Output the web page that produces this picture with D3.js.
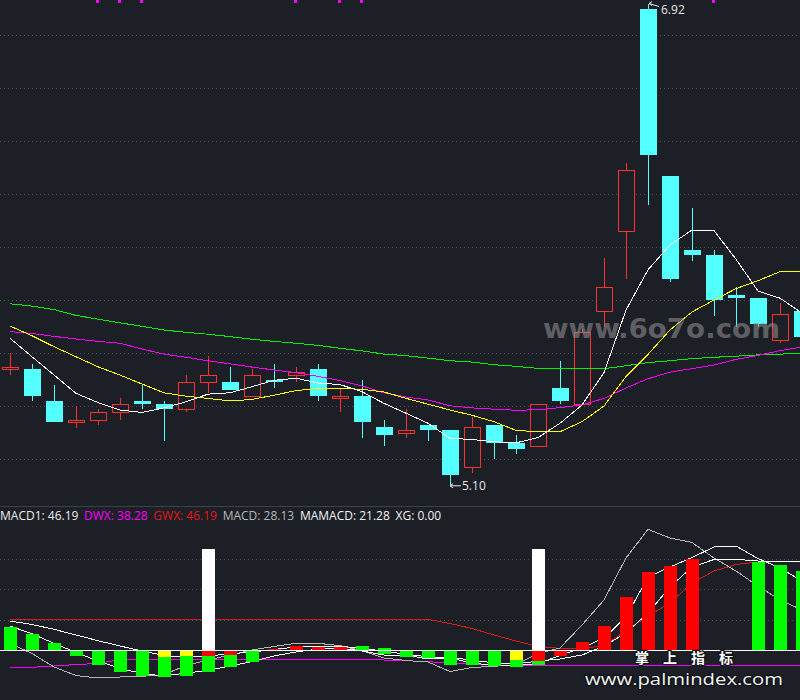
<!DOCTYPE html>
<html>
<head>
<meta charset="utf-8">
<script src="https://cdn.jsdelivr.net/npm/d3@7/dist/d3.min.js"></script>
<style>
html,body{margin:0;padding:0;background:#1c1f26;overflow:hidden;}
svg{display:block;}
</style>
</head>
<body>
<svg id="chart" width="800" height="700"></svg>
<script>
// ---------------- DATA ----------------
const openP  = [5.54,5.54,5.42,5.34,5.35,5.38,5.42,5.41,5.39,5.49,5.49,5.44,5.50,5.52,5.54,5.43,5.44,5.32,5.30,5.33,5.31,5.17,5.33,5.26,5.25,5.47,5.41,5.76,6.06,6.90,6.27,5.99,5.97,5.82,5.81,5.65,5.76];
const highP  = [5.60,5.56,5.48,5.40,5.39,5.43,5.48,5.42,5.52,5.59,5.55,5.54,5.56,5.55,5.56,5.47,5.50,5.35,5.39,5.33,5.31,5.36,5.33,5.29,5.41,5.57,5.69,5.96,6.32,6.92,6.27,6.15,5.99,5.85,5.81,5.79,5.78];
const lowP   = [5.52,5.42,5.34,5.32,5.33,5.35,5.39,5.27,5.38,5.45,5.46,5.44,5.47,5.49,5.42,5.38,5.28,5.25,5.28,5.27,5.10,5.15,5.20,5.22,5.25,5.41,5.41,5.70,5.88,6.16,5.87,5.95,5.74,5.70,5.70,5.64,5.65];
const closeP = [5.55,5.44,5.34,5.35,5.38,5.41,5.41,5.39,5.49,5.52,5.46,5.52,5.49,5.53,5.44,5.44,5.34,5.29,5.31,5.31,5.14,5.32,5.26,5.24,5.41,5.42,5.68,5.85,6.29,6.35,5.88,5.97,5.80,5.81,5.71,5.75,5.66];

const ma5  = [5.657,5.587,5.518,5.449,5.414,5.386,5.377,5.394,5.417,5.446,5.451,5.474,5.498,5.506,5.488,5.482,5.455,5.411,5.374,5.336,5.279,5.275,5.266,5.262,5.282,5.336,5.405,5.527,5.763,5.915,6.009,6.065,6.063,5.955,5.835,5.808,5.752];
const ma10 = [5.703,5.666,5.625,5.587,5.549,5.518,5.484,5.451,5.438,5.430,5.420,5.426,5.442,5.459,5.468,5.468,5.464,5.454,5.430,5.408,5.386,5.366,5.342,5.309,5.304,5.304,5.342,5.401,5.512,5.596,5.688,5.756,5.801,5.844,5.874,5.908,5.908];
const ma20 = [5.682,5.675,5.664,5.654,5.645,5.638,5.616,5.597,5.585,5.572,5.560,5.548,5.537,5.527,5.513,5.497,5.477,5.451,5.435,5.424,5.402,5.394,5.389,5.385,5.387,5.395,5.405,5.430,5.469,5.504,5.529,5.542,5.556,5.577,5.592,5.610,5.624];
const ma60 = [5.787,5.778,5.765,5.743,5.729,5.715,5.702,5.688,5.679,5.672,5.663,5.653,5.645,5.638,5.630,5.619,5.609,5.597,5.591,5.582,5.572,5.567,5.557,5.551,5.543,5.541,5.541,5.542,5.553,5.565,5.572,5.580,5.585,5.589,5.594,5.597,5.600];

const signalIdx = [4,5,6,13,15,16,32];
const priceTicks = [5.2,5.4,5.6,5.8,6.0,6.2,6.4,6.6,6.8];

// MACD panel
const gwx = [10.1,10.1,10.1,10.1,10.1,10.1,10.1,10.1,10.1,10.1,10.1,10.1,10.1,10.1,10.1,10.1,10.1,10.1,10.1,10.1,8.75,7.10,4.95,2.97,1.16,0.56,0.56,1.32,6.44,11.22,15.51,22.11,26.07,28.22,29.04,29.14,29.14];
const dwx = [-5.71,-5.71,-5.28,-4.79,-4.46,-3.14,-3.07,-3.30,-3.30,-3.30,-3.30,-3.30,-3.30,-3.30,-3.30,-3.30,-3.30,-3.30,-3.53,-3.86,-4.29,-4.62,-4.95,-5.28,-5.12,-5.05,-5.05,-5.05,-5.05,-5.05,-5.05,-5.05,-5.05,-5.05,-5.05,-5.05,-5.05];
const macdLine = [2.21,-1.16,-5.61,-8.42,-9.24,-8.91,-8.68,-8.09,-5.12,-3.30,-1.65,0,1.16,2.21,2.21,1.42,-0.17,-2.64,-3.47,-3.96,-7.10,-5.78,-5.38,-4.79,-1.16,0.66,8.25,16.50,30.36,39.83,36.96,35.48,30.36,26.07,21.12,16.50,13.20];
const mamacd = [9.57,8.42,6.83,4.95,3.07,1.32,-0.33,-1.82,-2.41,-1.98,-1.25,-0.66,0.17,0.99,1.16,1.16,0.66,-0.50,-1.32,-2.31,-2.48,-3.30,-4.29,-4.62,-3.63,-2.97,-1.65,1.32,5.61,12.21,20.79,27.39,29.87,29.93,29.37,29.14,29.04];
const macd1 = [7.92,5.35,2.21,-0.83,-3.63,-6.04,-7.76,-8.58,-7.59,-6.77,-5.28,-3.80,-1.98,-0.66,0.33,0.66,-0.33,-1.65,-1.65,-2.97,-2.64,-4.29,-5.12,-5.12,-4.46,-1.82,0.66,3.96,10.89,24.09,27.39,30.53,33.99,34.32,30.20,27.06,22.77];
const xgValue = 0;

const histGreen = [[0,7.7],[0,5.3],[0,2.3],[0,-1.9],[0,-5.0],[0,-7.3],[0,-8.6],[-2.3,-8.9],[-2.0,-8.6],[-1.9,-7.3],[-1.65,-5.6],[0,-4.0],
  null,null,null,null,[0,1.3],[0.7,-1.3],[0,-2.4],[0,-2.6],[0,-4.8],[0,-4.8],[0,-5.2],[-3.3,-5.5],[-3.6,-5.1],
  null,null,null,null,null,null,null,null,null,[0,28.9],[0,28.0],[0,26.2]];
const histRed = [null,null,null,null,null,null,null,null,null,[0,-1.9],[0,-1.65],null,[0,0.4],[0,1.3],[0,1.0],[0,1.0],
  null,null,null,null,null,null,null,null,[0,-3.6],[0,-1.9],[0,2.6],[0,7.9],[0,17.5],[0,25.8],[0,27.8],[0,30.0],
  null,null,null,null,null];
const histYellow = [null,null,null,null,null,null,null,[0,-2.3],[0,-2.0],null,null,null,null,null,null,null,
  null,null,null,null,null,null,null,[0,-3.3],null,null,null,null,null,null,null,null,null,null,null,null,null];
const histWhite = [null,null,null,null,null,null,null,null,null,[0,33.2],null,null,null,null,null,null,
  null,null,null,null,null,null,null,null,[0,33.2],null,null,null,null,null,null,null,null,null,null,null,null];
const macdTicks = [10,20,30];

const legendLabels = ["MACD1","DWX","GWX","MACD","MAMACD","XG"];
const legendValues = [46.19,38.28,46.19,28.13,21.28,0.00];

const watermarkTop = "www.6o7o.com";
const watermarkCn = "掌上指标";
const watermarkUrl = "www.palmindex.com";

// ---------------- STYLE ----------------
const BG = "#1c1f26";
const UP = "#ff3232", DOWN = "#54ffff";
const legendColors = ["#ececec","#ff00ff","#e8161c","#b8b8b8","#f2f2f2","#f2f2f2"];

// ---------------- DRAW ----------------
const svg = d3.select("#chart");
svg.append("rect").attr("width",800).attr("height",700).attr("fill",BG);

const n = closeP.length;
const x = d3.scaleLinear().domain([0, n-1]).range([10, 10 + 22*(n-1)]);
const yP = d3.scaleLinear().domain([5.2, 6.8]).range([459.3, 35.3]);
const yM = d3.scaleLinear().domain([0, 30]).range([650, 559.1]);

const defs = svg.append("defs");
defs.append("clipPath").attr("id","mainClip").append("rect").attr("x",0).attr("y",0).attr("width",800).attr("height",506);
defs.append("clipPath").attr("id","subClip").append("rect").attr("x",0).attr("y",507).attr("width",800).attr("height",193);

// main grid
const main = svg.append("g").attr("clip-path","url(#mainClip)");
main.selectAll("line.grid").data(priceTicks).join("line")
  .attr("x1",0).attr("x2",800)
  .attr("y1",d=>Math.round(yP(d))+0.5).attr("y2",d=>Math.round(yP(d))+0.5)
  .attr("stroke","#4d515b").attr("stroke-dasharray","1,3").attr("stroke-width",1);

// candles
const candles = main.append("g").attr("shape-rendering","crispEdges");
d3.range(n).forEach(i=>{
  const cx = Math.round(x(i));
  const up = closeP[i] >= openP[i];
  const col = up ? UP : DOWN;
  candles.append("line")
    .attr("x1",cx+0.5).attr("x2",cx+0.5)
    .attr("y1",yP(highP[i])).attr("y2",yP(lowP[i]))
    .attr("stroke",col).attr("stroke-width",1);
  const top = Math.round(yP(Math.max(openP[i],closeP[i])));
  const bot = Math.round(yP(Math.min(openP[i],closeP[i])));
  if (up) {
    candles.append("rect")
      .attr("x",cx-7.5).attr("y",top+0.5)
      .attr("width",16).attr("height",Math.max(1,bot-top))
      .attr("fill",BG).attr("stroke",col).attr("stroke-width",1);
  } else {
    candles.append("rect")
      .attr("x",cx-8).attr("y",top)
      .attr("width",17).attr("height",Math.max(1,bot-top))
      .attr("fill",col);
  }
});

// moving averages
const lineP = d3.line().x((d,i)=>x(i)).y(d=>yP(d));
[[ma60,"#00ee00"],[ma20,"#ff00ff"],[ma10,"#ffff00"],[ma5,"#ffffff"]].forEach(([arr,c])=>{
  main.append("path").datum(arr).attr("d",lineP)
    .attr("fill","none").attr("stroke",c).attr("stroke-width",1)
    .attr("shape-rendering","crispEdges");
});

// top signal markers
main.selectAll("rect.sig").data(signalIdx).join("rect")
  .attr("x",d=>Math.round(x(d))-2).attr("y",0).attr("width",3).attr("height",3)
  .attr("fill","#ff00ff");

// high / low annotations
const iHi = d3.maxIndex(highP), iLo = d3.minIndex(lowP);
const hx = Math.round(x(iHi)), hy = yP(highP[iHi]);
const ann = main.append("g").attr("stroke","#e8e8e8").attr("stroke-width",1).attr("fill","none");
ann.append("path").attr("d",`M${hx+1},${hy} L${hx+11},${hy+3} M${hx+1},${hy} L${hx+4},${hy-2} M${hx+1},${hy} L${hx+4},${hy+2}`);
main.append("text").attr("x",hx+13).attr("y",hy+10.5)
  .attr("font-family","'Open Sans', sans-serif").attr("font-size",12).attr("fill","#e6e6e6")
  .text(highP[iHi].toFixed(2));
const lx = Math.round(x(iLo)), ly = yP(lowP[iLo]);
ann.append("path").attr("d",`M${lx},${ly} L${lx+11},${ly} M${lx},${ly} L${lx+3},${ly-2} M${lx},${ly} L${lx+3},${ly+2}`);
main.append("text").attr("x",lx+12).attr("y",ly+4.5)
  .attr("font-family","'Open Sans', sans-serif").attr("font-size",12).attr("fill","#e6e6e6")
  .text(lowP[iLo].toFixed(2));

// watermark
main.append("text").attr("x",543).attr("y",338)
  .attr("font-family","'DejaVu Sans', sans-serif").attr("font-weight","bold").attr("font-size",27)
  .attr("textLength",237).attr("lengthAdjust","spacingAndGlyphs")
  .attr("fill","#8c8c8c").attr("fill-opacity",0.6).text(watermarkTop);

// separator
svg.append("line").attr("x1",0).attr("x2",800).attr("y1",506.5).attr("y2",506.5)
  .attr("stroke","#3e414a").attr("stroke-width",1);

// legend
let lxPos = 0;
legendLabels.forEach((lab,k)=>{
  const t = svg.append("text").attr("x",lxPos).attr("y",519.5)
    .attr("font-family","'Open Sans', sans-serif").attr("font-size",12)
    .attr("fill",legendColors[k]).text(`${lab}: ${legendValues[k].toFixed(2)}`);
  lxPos += t.node().getComputedTextLength() + 5.7;
});

// sub panel
const sub = svg.append("g").attr("clip-path","url(#subClip)");
sub.selectAll("line.mgrid").data(macdTicks).join("line")
  .attr("x1",0).attr("x2",800)
  .attr("y1",d=>Math.round(yM(d))+0.5).attr("y2",d=>Math.round(yM(d))+0.5)
  .attr("stroke","#4d515b").attr("stroke-dasharray","1,3");

const lineM = d3.line().x((d,i)=>x(i)).y(d=>yM(d));
[[gwx,"#e01818"],[dwx,"#ff00ff"],[macdLine,"#b4b4b4"],[mamacd,"#ffffff"],[macd1,"#ffffff"]].forEach(([arr,c])=>{
  sub.append("path").datum(arr).attr("d",lineM)
    .attr("fill","none").attr("stroke",c).attr("stroke-width",1)
    .attr("shape-rendering","crispEdges");
});

const bars = sub.append("g").attr("shape-rendering","crispEdges");
[[histWhite,"#ffffff"],[histGreen,"#00ff00"],[histRed,"#ff0000"],[histYellow,"#ffff00"]].forEach(([arr,c])=>{
  arr.forEach((seg,i)=>{
    if (!seg) return;
    const y1 = yM(seg[0]), y2 = yM(seg[1]);
    bars.append("rect")
      .attr("x",Math.round(x(i))-6).attr("width",13)
      .attr("y",Math.min(y1,y2)).attr("height",Math.max(1,Math.abs(y2-y1)))
      .attr("fill",c);
  });
});

// XG zero line
sub.append("line").attr("x1",0).attr("x2",800)
  .attr("y1",Math.round(yM(xgValue))+0.5).attr("y2",Math.round(yM(xgValue))+0.5)
  .attr("stroke","#ffffff").attr("stroke-width",1);

// bottom watermark texts
svg.append("text").attr("x",635).attr("y",662.5)
  .attr("font-family","'Noto Sans CJK SC', sans-serif").attr("font-weight","bold").attr("font-size",14)
  .attr("letter-spacing",14)
  .attr("fill","#ffffff").attr("stroke","#111318").attr("stroke-width",2.5).attr("paint-order","stroke")
  .text(watermarkCn);
svg.append("text").attr("x",585).attr("y",685)
  .attr("font-family","'Open Sans', sans-serif").attr("font-size",17)
  .attr("textLength",198).attr("lengthAdjust","spacingAndGlyphs")
  .attr("fill","#f2f2f2").attr("stroke","#111318").attr("stroke-width",2.5).attr("paint-order","stroke")
  .text(watermarkUrl);
</script>
</body>
</html>
